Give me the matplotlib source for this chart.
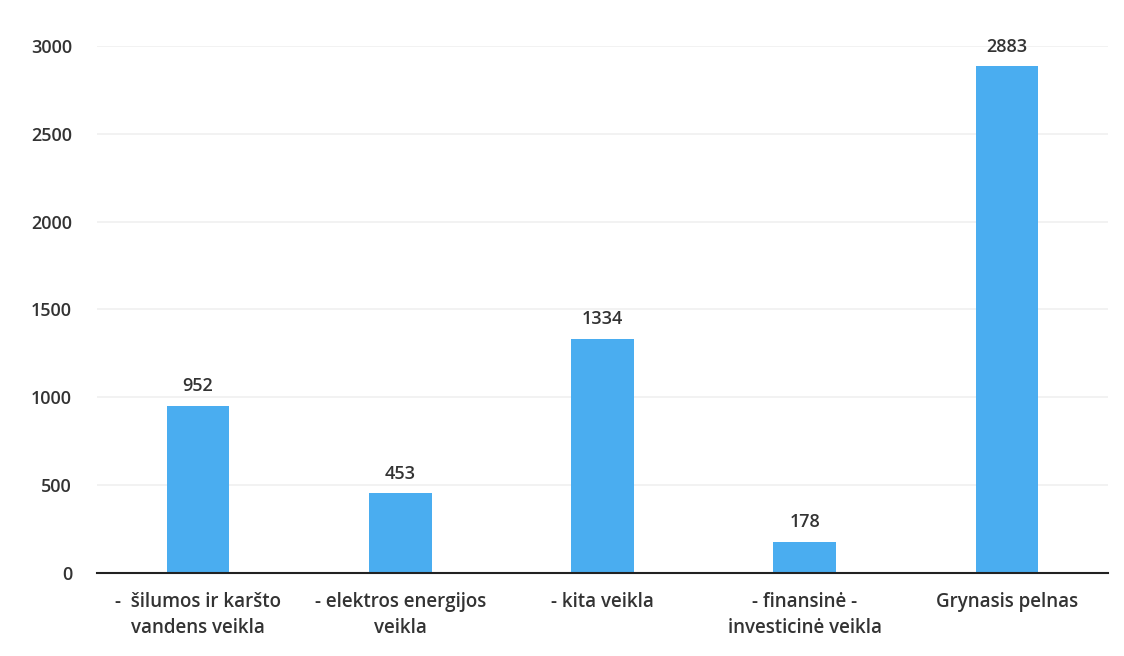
import matplotlib.pyplot as plt

# duomenys
kategorijos = ["-  šilumos ir karšto\nvandens veikla", "- elektros energijos\nveikla",
               "- kita veikla", "- finansinė -\ninvesticinė veikla", "Grynasis pelnas"]
reiksmes = [952, 453, 1334, 178, 2883]
y_ticks = [0, 500, 1000, 1500, 2000, 2500, 3000]

plt.rcParams['font.family'] = ['Open Sans', 'DejaVu Sans']

fig = plt.figure(figsize=(11.24, 6.56), dpi=100)
ax = fig.add_axes([0.0863, 0.1265, 0.8995, 0.8035])

x = range(len(kategorijos))
bars = ax.bar(x, reiksmes, width=0.31, color="#4AADF0", zorder=2)

for b, v in zip(bars, reiksmes):
    ax.text(b.get_x() + b.get_width() / 2, v + 60, str(v), ha="center", va="bottom",
            fontsize=13, fontweight="semibold", color="#333333", clip_on=False)

ax.set_xlim(-0.5, len(kategorijos) - 0.5)
ax.set_ylim(0, 3000)
ax.set_yticks(y_ticks)
ax.set_xticks(list(x))
ax.set_xticklabels(kategorijos, fontsize=13.5, fontweight="semibold", color="#333333",
                   linespacing=1.35)
ax.tick_params(axis="y", labelsize=13, length=0, pad=18, labelcolor="#333333")
ax.tick_params(axis="x", length=0, pad=14)
for lab in ax.get_yticklabels():
    lab.set_fontweight("semibold")

ax.grid(axis="y", color="#f0f0f0", linewidth=1.2, zorder=0)
for s in ["left", "right", "top"]:
    ax.spines[s].set_visible(False)
ax.spines["bottom"].set_color("#222222")
ax.spines["bottom"].set_linewidth(1.5)

fig.savefig("out.png", dpi=100)
